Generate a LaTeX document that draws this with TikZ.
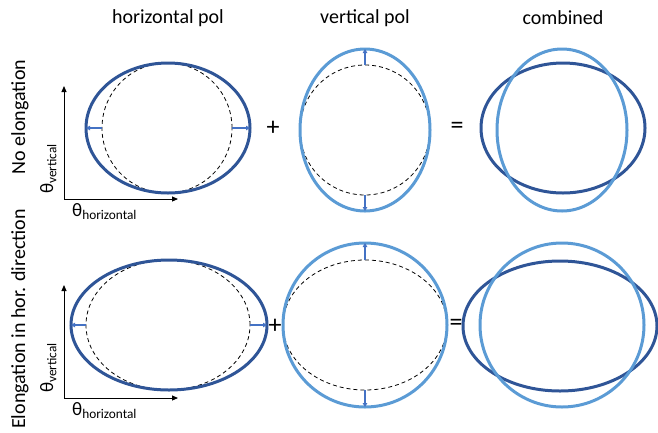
\documentclass[tikz,border=0pt]{standalone}
\usepackage{fontspec}
\setmainfont{Carlito}
\usepackage{tikz}
\usetikzlibrary{arrows.meta,shapes.geometric}

\definecolor{darkpol}{HTML}{2F5597}
\definecolor{lightpol}{HTML}{5B9BD5}
\definecolor{shiftblue}{HTML}{4472C4}

\begin{document}
\begin{tikzpicture}[
    x=1pt, y=-1pt,
    pol/.style={ellipse, draw, line width=3pt, inner sep=0pt, outer sep=0pt},
    polH/.style={pol, draw=darkpol},
    polV/.style={pol, draw=lightpol},
    base/.style={ellipse, draw, dash pattern=on 4pt off 3pt, line width=0.8pt,
                 inner sep=0pt, outer sep=0pt},
    arr/.style={-{Triangle[length=4pt,width=4.5pt]}, line width=1.2pt, shiftblue},
    axis/.style={-{Triangle[length=6pt,width=5pt]}, line width=0.9pt},
    txt/.style={font=\fontsize{20}{24}\selectfont},
    sym/.style={font=\fontsize{26}{30}\selectfont}
  ]
  \useasboundingbox (0,0) rectangle (658,432);

  % Column titles.
  \node[txt] (th) at (168,18) {horizontal pol};
  \node[txt] (tv) at (365,18) {vertical pol};
  \node[txt] (tc) at (563,18) {combined};

  % Row titles.
  \node[txt, rotate=90, anchor=base] (r1) at (25,117) {No elongation};
  \node[txt, rotate=90, anchor=base] (r2) at (25,319) {Elongation in hor. direction};

  % Row 1: no elongation.
  \node[base, minimum width=130pt, minimum height=130pt] (dh1) at (167,128) {};
  \node[polH, minimum width=164pt, minimum height=130pt] (h1) at (168,128) {};
  \node[base, minimum width=130pt, minimum height=130pt] (dv1) at (365,130) {};
  \node[polV, minimum width=130pt, minimum height=162pt] (v1) at (365,130) {};
  \node[polH, minimum width=164pt, minimum height=130pt] (ch1) at (563,128) {};
  \node[polV, minimum width=130pt, minimum height=162pt] (cv1) at (562,130) {};
  \node[sym] (p1) at (273,128) {+};
  \node[sym] (e1) at (457,128) {=};

  \draw[arr] (dh1.west) -- (h1.west);
  \draw[arr] (dh1.east) -- (h1.east);
  \draw[arr] (dv1.north) -- (v1.north);
  \draw[arr] (dv1.south) -- (v1.south);

  % Row 2: elongation in horizontal direction.
  \node[base, minimum width=164pt, minimum height=130pt] (dh2) at (168,325) {};
  \node[polH, minimum width=196pt, minimum height=130pt] (h2) at (169,325) {};
  \node[base, minimum width=164pt, minimum height=130pt] (dv2) at (365,325) {};
  \node[polV, minimum width=164pt, minimum height=164pt] (v2) at (365,325) {};
  \node[polH, minimum width=194pt, minimum height=130pt] (ch2) at (560,326) {};
  \node[polV, minimum width=164pt, minimum height=164pt] (cv2) at (562,325) {};
  \node[sym] (p2) at (275,326) {+};
  \node[sym] (e2) at (456,325) {=};

  \draw[arr] (dh2.west) -- (h2.west);
  \draw[arr] (dh2.east) -- (h2.east);
  \draw[arr] (dv2.north) -- (v2.north);
  \draw[arr] (dv2.south) -- (v2.south);

  % Angle axes.
  \foreach \r/\y in {1/199, 2/398} {
    \coordinate (o\r) at (64,\y);
    \coordinate (yt\r) at (64,\y-113);
    \coordinate (xt\r) at (178,\y);
    \draw[axis] (o\r) -- (yt\r);
    \draw[axis] (o\r) -- (xt\r);
    \node[rotate=90, anchor=base west, font=\fontsize{19}{22}\selectfont, inner sep=0pt]
      (tv\r) at (53,\y-5) {θ\textsubscript{vertical}};
    \node[anchor=base west, font=\fontsize{19}{22}\selectfont, inner sep=0pt]
      (thz\r) at (72,\y+17) {θ\textsubscript{horizontal}};
  }
\end{tikzpicture}
\end{document}
